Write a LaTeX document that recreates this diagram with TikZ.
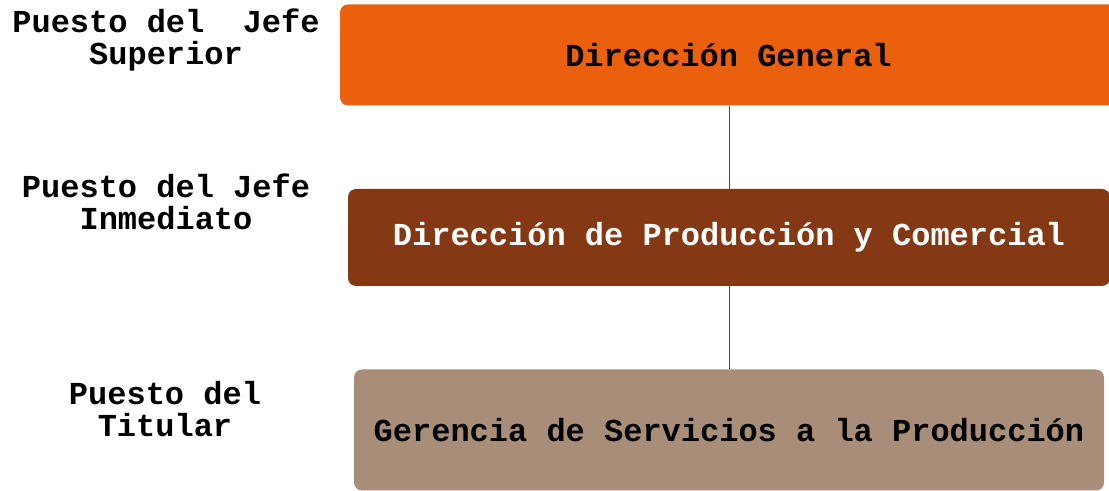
\documentclass[tikz,border=0pt]{standalone}
\usepackage{fontspec}
\setmonofont{Liberation Mono}
\usetikzlibrary{positioning,calc}
\definecolor{orangeBox}{HTML}{EA600C}
\definecolor{brownBox}{HTML}{843813}
\definecolor{tanBox}{HTML}{A88D78}
\begin{document}
\begin{tikzpicture}[
    x=0.5pt, y=-0.5pt,
    box_node/.style={rectangle, rounded corners=4pt, inner sep=0pt,
        font=\ttfamily\bfseries\fontsize{16}{16}\selectfont},
    orange_box/.style={box_node, fill=orangeBox, text=black,
        minimum width=388.5pt, minimum height=50.5pt},
    brown_box/.style={box_node, fill=brownBox, text=white,
        minimum width=381pt, minimum height=48.5pt},
    tan_box/.style={box_node, fill=tanBox, text=black,
        minimum width=375pt, minimum height=60.5pt},
    level_label/.style={align=center, inner sep=0pt,
        font=\ttfamily\bfseries\fontsize{16}{16}\selectfont},
    link_line/.style={draw=black!70, line width=0.5pt}
]
\useasboundingbox (0,0) rectangle (1109,491);
\clip (0,0) rectangle (1109,491);

% --- BOXES ---
\node[orange_box] (dirgen) at (728.5,55) {Dirección General};
\node[brown_box] (dirprod) at (729,237.5) {Dirección de Producción y Comercial};
\node[tan_box] (gerserv) at (729,430) {Gerencia de Servicios a la Producción};

% --- LEVEL LABELS ---
\node[level_label] (lblsup) at (166,40) {Puesto del\ \ Jefe\\Superior};
\node[level_label] (lblinm) at (166,202) {Puesto del Jefe\\Inmediato};
\node[level_label] (lbltit) at (165,409) {Puesto del\\Titular};

% --- LINKS ---
\draw[link_line] (dirgen.south -| dirprod.north) -- (dirprod.north);
\draw[link_line] (dirprod.south) -- (gerserv.north -| dirprod.south);

\end{tikzpicture}
\end{document}
